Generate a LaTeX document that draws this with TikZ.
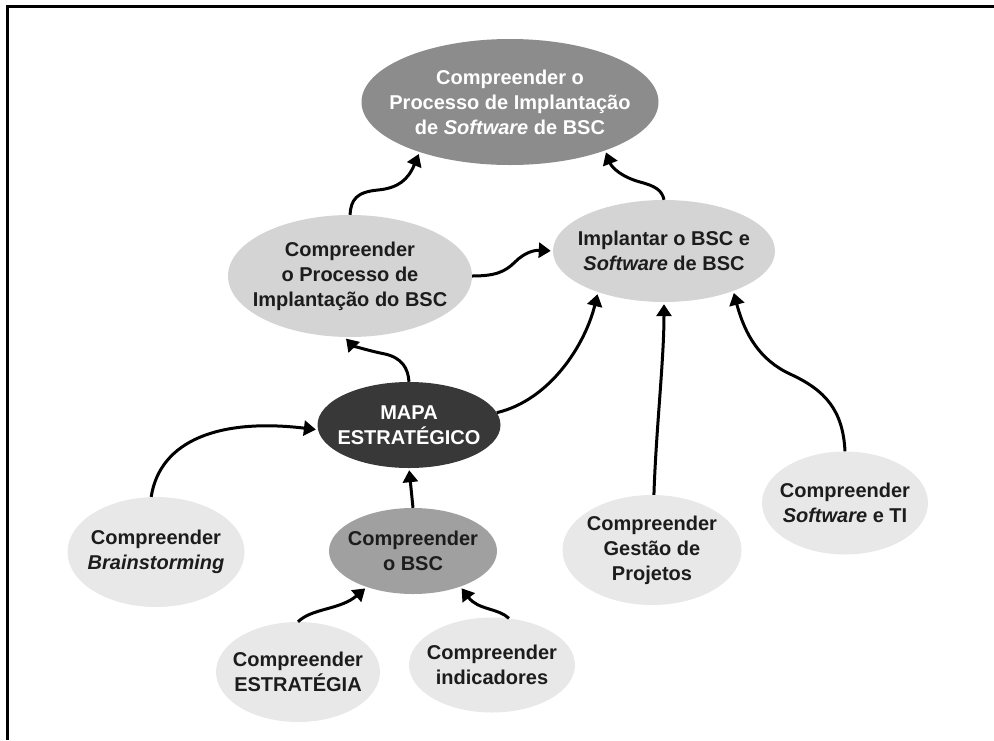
\documentclass[tikz,border=0pt]{standalone}
\usepackage{fontspec}
\setmainfont{Liberation Sans}
\usetikzlibrary{shapes.geometric,arrows.meta}
\definecolor{cTop}{HTML}{8C8C8C}
\definecolor{cMid}{HTML}{D4D4D4}
\definecolor{cLow}{HTML}{E8E8E8}
\definecolor{cBSC}{HTML}{A0A0A0}
\definecolor{cMapa}{HTML}{383838}
\definecolor{cInk}{HTML}{1C1C1C}
\begin{document}
\begin{tikzpicture}[x=1pt,y=-1pt,
  bub/.style={ellipse,inner sep=0pt,draw=none},
  txt/.style={inner sep=0pt,align=center,font=\bfseries\fontsize{20}{25}\selectfont,text=cInk},
  arr/.style={line width=3pt,-{Triangle[length=12pt,width=15pt]},shorten >=2pt}]
\useasboundingbox (0,0) rectangle (994,740);
\coordinate (f1) at (7,740);
\coordinate (f2) at (7,6);
\coordinate (f3) at (994,6);
\draw[line width=3pt] (f1) -- (f2) -- (f3);

\node[bub,fill=cTop,minimum width=297pt,minimum height=126pt] (top) at (510,102) {};
\node[txt,text=white] (topT) at (top) {Compreender o\\Processo de Implantação\\de \textit{Software} de BSC};

\node[bub,fill=cMid,minimum width=244pt,minimum height=122pt] (proc) at (350,276) {};
\node[txt] (procT) at (proc) {Compreender\\o Processo de\\Implantação do BSC};

\node[bub,fill=cMid,minimum width=222pt,minimum height=102pt] (impl) at (664,251) {};
\node[txt] (implT) at (impl) {Implantar o BSC e\\\textit{Software} de BSC};

\node[bub,fill=cMapa,minimum width=183pt,minimum height=86pt] (mapa) at (409,425) {};
\node[txt,text=white] (mapaT) at (mapa) {MAPA\\ESTRATÉGICO};

\node[bub,fill=cBSC,minimum width=168pt,minimum height=86pt] (obsc) at (413,551) {};
\node[txt] (obscT) at (obsc) {Compreender\\o BSC};

\node[bub,fill=cLow,minimum width=177pt,minimum height=110pt] (brain) at (156,552) {};
\node[txt] (brainT) at (brain) {Compreender\\\textit{Brainstorming}};

\node[bub,fill=cLow,minimum width=164pt,minimum height=100pt] (estr) at (298,672) {};
\node[txt] (estrT) at (estr) {Compreender\\ESTRATÉGIA};

\node[bub,fill=cLow,minimum width=166pt,minimum height=95pt] (ind) at (492,665) {};
\node[txt] (indT) at (ind) {Compreender\\indicadores};

\node[bub,fill=cLow,minimum width=179pt,minimum height=110pt] (gest) at (652,550) {};
\node[txt] (gestT) at (gest) {Compreender\\Gestão de\\Projetos};

\node[bub,fill=cLow,minimum width=166pt,minimum height=103pt] (soft) at (845,503) {};
\node[txt] (softT) at (soft) {Compreender\\\textit{Software} e TI};

% connectors
\draw[arr] (proc.north) .. controls (351,200) and (356,192) .. (378,190)
  .. controls (398,188) and (408,180) .. (top.209);
\draw[arr] (impl.north) .. controls (662,190) and (655,186) .. (640,182)
  .. controls (622,177) and (612,168) .. (top.333);
\draw[arr] (proc.east) .. controls (495,276) and (505,272) .. (515,262)
  .. controls (525,252) and (535,250) .. (impl.west);
\draw[arr] (mapa.north) .. controls (408,368) and (402,358) .. (385,354)
  .. controls (365,350) and (352,345) .. (proc.265);
\draw[arr] (mapa.8) .. controls (550,400) and (585,345) .. (impl.212);
\draw[arr] (brain.95) .. controls (160,440) and (220,418) .. (mapa.183);
\draw[arr] (obsc.north) -- (mapa.south);
\draw[arr] (estr.north) .. controls (312,608) and (340,610) .. (obsc.218);
\draw[arr] (ind.70) .. controls (498,608) and (478,610) .. (obsc.323);
\draw[arr] (gest.88) .. controls (656,430) and (664,360) .. (impl.south);
\draw[arr] (soft.north) .. controls (843,410) and (825,390) .. (790,374)
  .. controls (760,360) and (745,335) .. (impl.330);
\end{tikzpicture}
\end{document}
